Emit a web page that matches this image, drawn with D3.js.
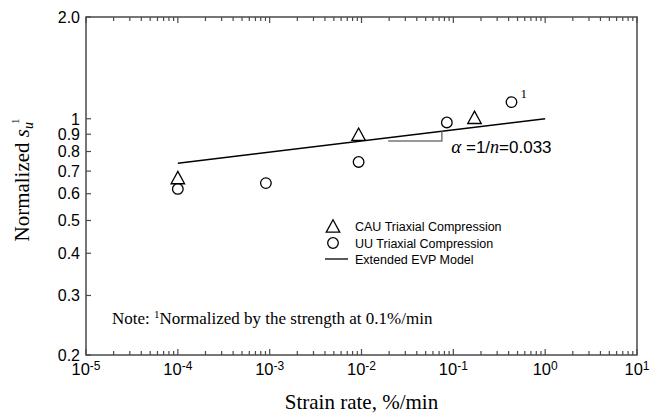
<!DOCTYPE html>
<html>
<head>
<meta charset="utf-8">
<script src="https://cdn.jsdelivr.net/npm/d3@7"></script>
<style>
  body { margin:0; background:#fff; }
  svg { display:block; }
</style>
</head>
<body>
<div id="vis"></div>
<script>
// CAU triaxial compression
var cauRate = [1e-4, 0.0093, 0.17];
var cauSu = [0.67, 0.90, 1.01];
// UU triaxial compression
var uuRate = [1e-4, 0.00091, 0.0093, 0.085, 0.43];
var uuSu = [0.62, 0.645, 0.745, 0.975, 1.12];
// extended EVP model line
var modelRate = [1e-4, 1];
var modelSu = [0.738, 1.0];

var yTickVals = [0.2, 0.3, 0.4, 0.5, 0.6, 0.7, 0.8, 0.9, 1, 2];
var yTickLabels = ["0.2", "0.3", "0.4", "0.5", "0.6", "0.7", "0.8", "0.9", "1", "2.0"];
var xExponents = [-5, -4, -3, -2, -1, 0, 1];

(function run(){
  var W = 650, H = 416;
  var margin = {top:17, right:13, bottom:61, left:86};
  var width = W - margin.left - margin.right;
  var height = H - margin.top - margin.bottom;

  var svg = d3.select("#vis").append("svg")
    .attr("width", W).attr("height", H);
  var g = svg.append("g")
    .attr("transform", "translate(" + margin.left + "," + margin.top + ")");

  var x = d3.scaleLog().domain([1e-5, 10]).range([0, width]);
  var y = d3.scaleLog().domain([0.2, 2]).range([height, 0]);

  var axisColor = "#4a4a4a";
  var sans = "'Liberation Sans', Arial, sans-serif";
  var serif = "'Liberation Serif', 'Times New Roman', serif";

  // x ticks (major + minor), bottom and top, pointing inward
  var xTicks = [];
  for (var e = -5; e < 1; e++) {
    for (var k = 1; k < 10; k++) xTicks.push({v: k * Math.pow(10, e), major: k === 1});
  }
  xTicks.push({v: 10, major: true});

  g.selectAll(".xtick-b").data(xTicks).enter().append("line")
    .attr("x1", function(d){ return x(d.v); })
    .attr("x2", function(d){ return x(d.v); })
    .attr("y1", height)
    .attr("y2", function(d){ return height - (d.major ? 6 : 4); })
    .attr("stroke", axisColor).attr("stroke-width", 1.2);

  g.selectAll(".xtick-t").data(xTicks).enter().append("line")
    .attr("x1", function(d){ return x(d.v); })
    .attr("x2", function(d){ return x(d.v); })
    .attr("y1", 0)
    .attr("y2", function(d){ return d.major ? 6 : 4; })
    .attr("stroke", axisColor).attr("stroke-width", 1.2);

  // y ticks on left
  g.selectAll(".ytick").data(yTickVals).enter().append("line")
    .attr("x1", 0).attr("x2", 5)
    .attr("y1", function(d){ return y(d); })
    .attr("y2", function(d){ return y(d); })
    .attr("stroke", axisColor).attr("stroke-width", 1.2);

  // frame
  g.append("rect")
    .attr("x", 0).attr("y", 0)
    .attr("width", width).attr("height", height)
    .attr("fill", "none")
    .attr("stroke", axisColor).attr("stroke-width", 1.5);

  // y tick labels
  g.selectAll(".ylab").data(yTickVals).enter().append("text")
    .attr("x", -6)
    .attr("y", function(d){ return y(d); })
    .attr("dy", "0.36em")
    .attr("text-anchor", "end")
    .style("font-family", sans).style("font-size", "16px")
    .text(function(d, i){ return yTickLabels[i]; });

  // x tick labels 10^n
  var xl = g.selectAll(".xlab").data(xExponents).enter().append("text")
    .attr("x", function(d){ return x(Math.pow(10, d)); })
    .attr("y", height + 20)
    .attr("text-anchor", "middle")
    .style("font-family", sans).style("font-size", "16.5px");
  xl.append("tspan").text("10");
  xl.append("tspan")
    .attr("dy", "-0.45em")
    .style("font-size", "12px")
    .text(function(d){ return d; });

  // axis titles
  g.append("text")
    .attr("x", width / 2)
    .attr("y", height + 54)
    .attr("text-anchor", "middle")
    .style("font-family", serif).style("font-size", "21px")
    .text("Strain rate, %/min");

  var yt = svg.append("text")
    .attr("transform", "translate(29,180) rotate(-90)")
    .attr("text-anchor", "middle")
    .style("font-family", serif).style("font-size", "21px");
  yt.append("tspan").text("Normalized ");
  yt.append("tspan").style("font-style", "italic").text("s");
  yt.append("tspan").style("font-style", "italic").style("font-size", "14px").attr("dy", "0.3em").text("u");
  yt.append("tspan").style("font-size", "11px").attr("dy", "-1.3em").attr("dx", "-2").text("1");

  // model line
  var line = d3.line()
    .x(function(d, i){ return x(modelRate[i]); })
    .y(function(d){ return y(d); });
  g.append("path")
    .datum(modelSu)
    .attr("d", line)
    .attr("fill", "none")
    .attr("stroke", "#000").attr("stroke-width", 1.5);

  // slope bracket
  var bx0 = 0.0195, bx1 = 0.075, by = 0.86;
  var byTop = modelSu[0] * Math.pow(bx1 / modelRate[0], 0.033);
  g.append("path")
    .attr("d", "M" + x(bx0) + "," + y(by) + "H" + x(bx1) + "V" + y(byTop))
    .attr("fill", "none")
    .attr("stroke", "#777").attr("stroke-width", 1.5);

  var at = g.append("text")
    .attr("x", x(0.095))
    .attr("y", y(0.79))
    .style("font-family", sans).style("font-size", "17px");
  at.append("tspan").style("font-family", serif).style("font-style", "italic").style("font-size", "19px").text("\u03b1");
  at.append("tspan").text(" =1/");
  at.append("tspan").style("font-family", serif).style("font-style", "italic").style("font-size", "18px").text("n");
  at.append("tspan").text("=0.033");

  // markers
  function tri(cx, cy, s) {
    var h = s * 0.92;
    return "M" + cx + "," + (cy - h / 2) + "L" + (cx + s / 2) + "," + (cy + h / 2) + "L" + (cx - s / 2) + "," + (cy + h / 2) + "Z";
  }

  g.selectAll(".cau").data(cauSu).enter().append("path")
    .attr("d", function(d, i){ return tri(x(cauRate[i]), y(d), 13.5); })
    .attr("fill", "none")
    .attr("stroke", "#000").attr("stroke-width", 1.3);

  g.selectAll(".uu").data(uuSu).enter().append("circle")
    .attr("cx", function(d, i){ return x(uuRate[i]); })
    .attr("cy", function(d){ return y(d); })
    .attr("r", 5.3)
    .attr("fill", "none")
    .attr("stroke", "#000").attr("stroke-width", 1.3);

  // superscript 1 next to last UU point
  g.append("text")
    .attr("x", x(uuRate[4]) + 9)
    .attr("y", y(uuSu[4]) - 4)
    .style("font-family", serif).style("font-size", "13px")
    .text("1");

  // legend
  var legend = svg.append("g").attr("transform", "translate(333,226)");
  legend.append("path")
    .attr("d", tri(0, 0, 13.5))
    .attr("fill", "none").attr("stroke", "#000").attr("stroke-width", 1.3);
  legend.append("circle")
    .attr("cx", 0).attr("cy", 17).attr("r", 5.3)
    .attr("fill", "none").attr("stroke", "#000").attr("stroke-width", 1.3);
  legend.append("line")
    .attr("x1", -8).attr("x2", 15).attr("y1", 33).attr("y2", 33)
    .attr("stroke", "#000").attr("stroke-width", 1.3);
  var legendText = ["CAU Triaxial Compression", "UU Triaxial Compression", "Extended EVP Model"];
  legend.selectAll(".lt").data(legendText).enter().append("text")
    .attr("x", 22)
    .attr("y", function(d, i){ return [0, 17, 33][i]; })
    .attr("dy", "0.36em")
    .style("font-family", sans).style("font-size", "12.5px")
    .text(function(d){ return d; });

  // note
  var note = svg.append("text")
    .attr("x", 112).attr("y", 324)
    .style("font-family", serif).style("font-size", "17px");
  note.append("tspan").text("Note:  ");
  note.append("tspan").style("font-size", "11px").attr("dy", "-0.55em").text("1");
  note.append("tspan").attr("dy", "0.35em").text("Normalized by the strength at 0.1%/min");
})();
</script>
</body>
</html>
